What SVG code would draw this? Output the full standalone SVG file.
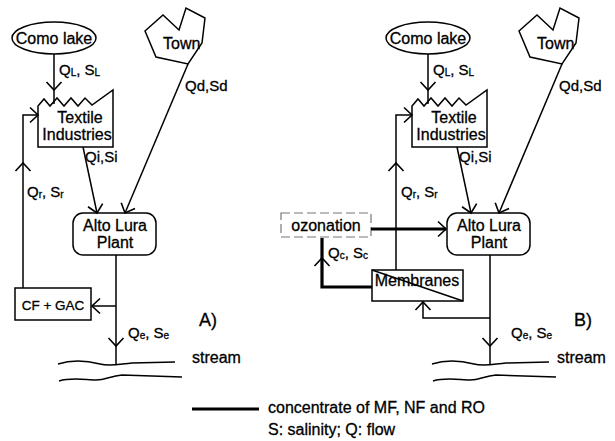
<svg xmlns="http://www.w3.org/2000/svg" width="615" height="441" viewBox="0 0 615 441">
<style>
  .shape { fill: #fff; stroke: #000; stroke-width: 1.5; }
  .ln { fill: none; stroke: #000; stroke-width: 1.5; }
  .thick { fill: none; stroke: #000; stroke-width: 3.2; }
  .dash { fill: #fff; stroke: #777; stroke-width: 1.2; stroke-dasharray: 9 4; }
  text { font-family: "Liberation Sans", Arial, sans-serif; fill: #000; stroke: #000; stroke-width: 0.3; }
  .nl { font-size: 16px; }
  .lb { font-size: 15px; }
  .sub { font-size: 10px; }
  .big { font-size: 18px; }
</style>
<defs>
  <marker id="ah" markerUnits="userSpaceOnUse" markerWidth="20" markerHeight="20" viewBox="-10 -10 20 20" refX="0" refY="0" orient="auto" overflow="visible">
    <path d="M-8,-7.5 L0,0 L-8,7.5" fill="none" stroke="#000" stroke-width="1.6"/>
  </marker>
</defs>
<rect width="615" height="441" fill="#fff"/>

<!-- Panel A nodes -->
<g id="comolake-a">
  <ellipse class="shape" cx="54" cy="38" rx="42" ry="16"/>
  <text class="nl" x="54" y="44" text-anchor="middle">Como lake</text>
</g>
<g id="town-a">
  <polygon class="shape" points="145,31 163,15 179,30 186,8 205,18 202,43 188,64 156,57"/>
  <text class="nl" x="163" y="49">Town</text>
</g>
<g id="textile-a">
  <path class="shape" d="M38,106 L44,99 L50,106 L57,98 L64,106 L71,98 L78,106 L85,98 L92,105 L113,90 L113,147 L38,147 Z"/>
  <text class="nl" x="80" y="123" text-anchor="middle">Textile</text>
  <text class="nl" x="77" y="140" text-anchor="middle">Industries</text>
</g>
<g id="altolura-a">
  <rect class="shape" x="73" y="213" width="83" height="42" rx="10"/>
  <text class="nl" x="115" y="231" text-anchor="middle">Alto Lura</text>
  <text class="nl" x="115" y="248" text-anchor="middle">Plant</text>
</g>
<g id="cfgac-a">
  <rect class="shape" x="15" y="288" width="76" height="32"/>
  <text x="53" y="310" font-size="13.5" text-anchor="middle">CF + GAC</text>
</g>
<g id="stream-a">
  <path class="ln" d="M58,364 C70,360 85,360 100,364 C110,367 120,364 132,363 L175,362"/>
  <path class="ln" d="M59,381 C72,377 86,380 96,380 C106,380 110,376 122,375 L182,377"/>
  <text class="nl" x="192" y="363">stream</text>
</g>

<!-- Panel B nodes -->
<g id="comolake-b">
  <ellipse class="shape" cx="428" cy="38" rx="42" ry="16"/>
  <text class="nl" x="428" y="44" text-anchor="middle">Como lake</text>
</g>
<g id="town-b" transform="translate(374,0)">
  <polygon class="shape" points="145,31 163,15 179,30 186,8 205,18 202,43 188,64 156,57"/>
  <text class="nl" x="163" y="49">Town</text>
</g>
<g id="textile-b" transform="translate(374,0)">
  <path class="shape" d="M38,106 L44,99 L50,106 L57,98 L64,106 L71,98 L78,106 L85,98 L92,105 L113,90 L113,147 L38,147 Z"/>
  <text class="nl" x="80" y="123" text-anchor="middle">Textile</text>
  <text class="nl" x="77" y="140" text-anchor="middle">Industries</text>
</g>
<g id="altolura-b">
  <rect class="shape" x="447" y="213" width="83" height="42" rx="10"/>
  <text class="nl" x="489" y="231" text-anchor="middle">Alto Lura</text>
  <text class="nl" x="489" y="248" text-anchor="middle">Plant</text>
</g>
<g id="ozonation-b">
  <rect class="dash" x="281" y="213" width="90" height="24"/>
  <text class="nl" x="326" y="231" text-anchor="middle">ozonation</text>
</g>
<g id="membranes-b">
  <rect class="shape" x="372" y="270" width="91" height="31"/>
  <line class="ln" x1="372" y1="270" x2="463" y2="301"/>
  <text class="nl" x="417" y="286" text-anchor="middle">Membranes</text>
</g>
<g id="stream-b" transform="translate(374,0)">
  <path class="ln" d="M58,364 C70,360 85,360 100,364 C110,367 120,364 132,363 L175,362"/>
  <path class="ln" d="M59,381 C72,377 86,380 96,380 C106,380 110,376 122,375 L182,377"/>
</g>
<text class="nl" x="557" y="363">stream</text>

<!-- Connectors -->
<g id="connectors">
  <!-- A -->
  <path class="ln" d="M54,54 L54,90" marker-end="url(#ah)"/>
  <path class="ln" d="M54,90 L54,104"/>
  <path class="ln" d="M188,64 L125,213" marker-end="url(#ah)"/>
  <path class="ln" d="M83,147 L97,213" marker-end="url(#ah)"/>
  <path class="ln" d="M116,255 L116,346" marker-end="url(#ah)"/>
  <path class="ln" d="M116,346 L116,364"/>
  <path class="ln" d="M116,306 L92,306" marker-end="url(#ah)"/>
  <path class="ln" d="M23,288 L23,163" marker-end="url(#ah)"/>
  <path class="ln" d="M23,163 L23,115 L38,115" marker-end="url(#ah)"/>
  <!-- B -->
  <path class="ln" d="M428,54 L428,90" marker-end="url(#ah)"/>
  <path class="ln" d="M428,90 L428,104"/>
  <path class="ln" d="M562,64 L499,213" marker-end="url(#ah)"/>
  <path class="ln" d="M457,147 L471,213" marker-end="url(#ah)"/>
  <path class="ln" d="M490,255 L490,346" marker-end="url(#ah)"/>
  <path class="ln" d="M490,346 L490,364"/>
  <path class="ln" d="M396,270 L396,163" marker-end="url(#ah)"/>
  <path class="ln" d="M396,163 L396,115 L412,115" marker-end="url(#ah)"/>
  <path class="ln" d="M490,318 L423,318 L423,302" marker-end="url(#ah)"/>
  <path class="thick" d="M371,229 L446,229" marker-end="url(#ah)"/>
  <path class="thick" d="M372,287 L322,287 L322,258" marker-end="url(#ah)"/>
  <path class="thick" d="M322,258 L322,238"/>
</g>

<!-- Labels -->
<g id="labels">
  <text class="lb" x="59" y="75">Q<tspan class="sub" dy="1">L</tspan><tspan dy="-1">, S</tspan><tspan class="sub" dy="1">L</tspan></text>
  <text class="lb" x="185" y="91">Qd,Sd</text>
  <text class="lb" x="85" y="162">Qi,Si</text>
  <text class="lb" x="27" y="197">Q<tspan class="sub" dy="1">r</tspan><tspan dy="-1">,  S</tspan><tspan class="sub" dy="1">r</tspan></text>
  <text class="lb" x="128" y="338">Q<tspan class="sub" dy="1">e</tspan><tspan dy="-1">, S</tspan><tspan class="sub" dy="1">e</tspan></text>
  <text class="big" x="199" y="326">A)</text>

  <text class="lb" x="433" y="75">Q<tspan class="sub" dy="1">L</tspan><tspan dy="-1">, S</tspan><tspan class="sub" dy="1">L</tspan></text>
  <text class="lb" x="559" y="91">Qd,Sd</text>
  <text class="lb" x="459" y="162">Qi,Si</text>
  <text class="lb" x="401" y="197">Q<tspan class="sub" dy="1">r</tspan><tspan dy="-1">,  S</tspan><tspan class="sub" dy="1">r</tspan></text>
  <text class="lb" x="328" y="258">Q<tspan class="sub" dy="1">c</tspan><tspan dy="-1">, S</tspan><tspan class="sub" dy="1">c</tspan></text>
  <text class="lb" x="511" y="338">Q<tspan class="sub" dy="1">e</tspan><tspan dy="-1">, S</tspan><tspan class="sub" dy="1">e</tspan></text>
  <text class="big" x="574" y="326">B)</text>
</g>

<!-- Legend -->
<g id="legend">
  <line class="thick" x1="192" y1="409" x2="259" y2="409"/>
  <text class="nl" x="268" y="413">concentrate of MF, NF and RO</text>
  <text class="nl" x="268" y="435">S: salinity; Q: flow</text>
</g>
</svg>
